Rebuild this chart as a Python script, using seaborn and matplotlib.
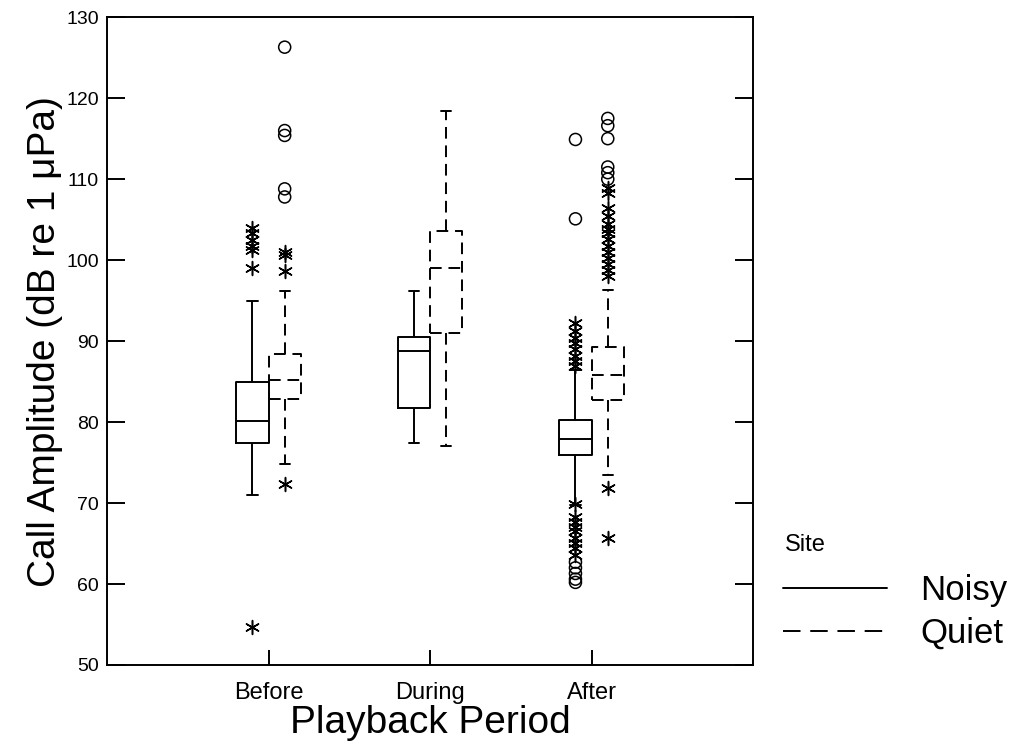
import numpy as np
import pandas as pd
import matplotlib
matplotlib.use("Agg")
import matplotlib.pyplot as plt
import seaborn as sns
from matplotlib.lines import Line2D

# ------------------------------------------------------------
# data (dB re 1 uPa)
# ------------------------------------------------------------
periods = ["Before", "During", "After"]
sites = ["Noisy", "Quiet"]

# five-number summaries: lower whisker, Q1, median, Q3, upper whisker
noisy_before = [71.0, 77.4, 80.1, 84.9, 95.0]
noisy_during = [77.4, 81.7, 88.8, 90.5, 96.2]
noisy_after = [69.8, 75.9, 77.9, 80.2, 86.4]
quiet_before = [74.8, 82.9, 85.2, 88.4, 96.2]
quiet_during = [77.0, 91.0, 99.0, 103.6, 118.4]
quiet_after = [73.5, 82.7, 85.8, 89.3, 96.3]

# outside values: "*" beyond inner fence, "o" beyond outer fence
noisy_before_star = [104.0, 103.3, 102.5, 101.7, 101.2, 99.0, 54.7]
noisy_before_circ = []
quiet_before_star = [101.0, 100.6, 98.6, 72.3]
quiet_before_circ = [126.3, 116.0, 115.4, 108.8, 107.8]
noisy_after_star = [92.2, 91.3, 90.4, 89.8, 89.0, 88.2, 87.6, 86.9,
                    69.9, 68.3, 67.6, 67.1, 66.5, 65.7, 65.1, 64.4, 63.6]
noisy_after_circ = [114.9, 105.1, 62.7, 62.0, 61.3, 60.6, 60.2]
quiet_after_star = [108.9, 108.3, 106.4, 105.5, 104.4, 103.9, 103.3, 102.6,
                    101.8, 101.0, 100.2, 99.5, 98.8, 98.1, 71.9, 65.7]
quiet_after_circ = [117.5, 116.6, 115.0, 111.5, 110.8, 110.0]

summaries = {
    ("Before", "Noisy"): noisy_before, ("During", "Noisy"): noisy_during,
    ("After", "Noisy"): noisy_after, ("Before", "Quiet"): quiet_before,
    ("During", "Quiet"): quiet_during, ("After", "Quiet"): quiet_after,
}
outside = {
    ("Before", "Noisy"): (noisy_before_star, noisy_before_circ),
    ("Before", "Quiet"): (quiet_before_star, quiet_before_circ),
    ("After", "Noisy"): (noisy_after_star, noisy_after_circ),
    ("After", "Quiet"): (quiet_after_star, quiet_after_circ),
}

box_df = pd.DataFrame(
    [(p, s, v) for (p, s), vals in summaries.items() for v in vals],
    columns=["Period", "Site", "Amplitude"],
)
rows = []
for (p, s), (stars, circs) in outside.items():
    rows += [(p, s, v, "star") for v in stars]
    rows += [(p, s, v, "circle") for v in circs]
out_df = pd.DataFrame(rows, columns=["Period", "Site", "Amplitude", "Kind"])

# ------------------------------------------------------------
# plot
# ------------------------------------------------------------
sns.set_style("ticks")
plt.rcParams["font.family"] = ["Liberation Sans", "DejaVu Sans"]
plt.rcParams.update({"text.color": "black", "axes.labelcolor": "black",
                     "xtick.color": "black", "ytick.color": "black"})

fig = plt.figure(figsize=(10.16, 7.48), dpi=100)
ax = fig.add_axes([0.1053, 0.111, 0.636, 0.866])

lw = 1.4
dash = (0, (6, 3.5))
box_w = 0.4
for site, ls in [("Noisy", "-"), ("Quiet", dash)]:
    lp = dict(linestyle=ls, linewidth=lw, color="black")
    sns.boxplot(
        data=box_df[box_df["Site"] == site], x="Period", y="Amplitude",
        hue="Site", order=periods, hue_order=sites, dodge=True,
        palette={"Noisy": "black", "Quiet": "black"}, fill=False,
        width=box_w, whis=(0, 100), showfliers=False, linewidth=lw,
        boxprops=lp, whiskerprops=lp, medianprops=lp,
        capprops=dict(linewidth=lw, color="black", linestyle="-"),
        legend=False, ax=ax,
    )

# shorter whisker caps, like the original
for ln in ax.lines:
    xd, yd = np.asarray(ln.get_xdata(), float), np.asarray(ln.get_ydata(), float)
    if len(xd) == 2 and yd[0] == yd[1] and 0 < abs(xd[1] - xd[0]) < 0.15:
        mid = xd.mean()
        ln.set_xdata([mid - 0.032, mid + 0.032])

# same dodge as the boxes: -0.1 / +0.1 around each period
hue_off = {s: (i - 0.5) * box_w / 2 for i, s in enumerate(sites)}
out_df["x"] = out_df["Period"].map(periods.index) + out_df["Site"].map(hue_off)

sns.scatterplot(data=out_df[out_df["Kind"] == "star"], x="x", y="Amplitude",
                marker=(6, 2, 0), s=100, color="black", linewidth=1.1,
                legend=False, ax=ax)
sns.scatterplot(data=out_df[out_df["Kind"] == "circle"], x="x", y="Amplitude",
                marker="o", s=75, facecolor="none", edgecolor="black",
                linewidth=1.1, legend=False, ax=ax)

ax.set_xlim(-1, 3)
ax.set_ylim(50, 130)
ax.set_yticks(np.arange(50, 131, 10))
ax.set_xticks(range(len(periods)))
ax.set_xticklabels(periods)

for sp in ax.spines.values():
    sp.set_visible(True)
    sp.set_linewidth(lw)
    sp.set_color("black")

ax.tick_params(axis="y", direction="in", length=13, width=lw,
               left=True, right=True, labelsize=14, pad=6)
ax.tick_params(axis="x", direction="in", length=11, width=lw,
               top=False, labelsize=17, pad=12)

ax.set_ylabel("Call Amplitude (dB re 1 μPa)", fontsize=28, labelpad=2)
ax.set_xlabel("Playback Period", fontsize=28, labelpad=1)

# legend
fig.text(785 / 1016, 1 - 545 / 748, "Site", fontsize=17, va="center", ha="left")
handles = [Line2D([], [], color="black", lw=lw),
           Line2D([], [], color="black", lw=lw, linestyle=(0, (9, 5)))]
fig.legend(handles, sites, loc="upper left",
           bbox_to_anchor=(783 / 1016, 1 - 574 / 748), frameon=False,
           fontsize=25, handlelength=3.0, handletextpad=0.95,
           labelspacing=0.28, borderpad=0, borderaxespad=0)

fig.savefig("out.png", dpi=100)
